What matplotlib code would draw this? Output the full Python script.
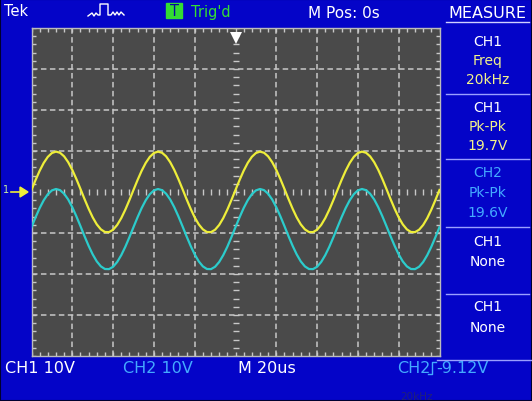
import matplotlib
matplotlib.use('Agg')
import matplotlib.pyplot as plt
import numpy as np
from matplotlib.lines import Line2D
from matplotlib.patches import Rectangle, Polygon

W, H = 532, 402

# ---- data (time in microseconds, volts) ----
time_us = list(range(-100, 101, 2))
ch1_volts = [0.50, 2.93, 5.18, 7.10, 8.57, 9.51, 9.85, 9.57, 8.69, 7.26, 5.38, 3.16, 0.74,
             -1.73, -4.08, -6.19, -7.90, -9.11, -9.76, -9.79, -9.20, -8.04, -6.37, -4.30, -1.96,
             0.50, 2.93, 5.18, 7.10, 8.57, 9.51, 9.85, 9.57, 8.69, 7.26, 5.38, 3.16, 0.74,
             -1.73, -4.08, -6.19, -7.90, -9.11, -9.76, -9.79, -9.20, -8.04, -6.37, -4.30, -1.96,
             0.50, 2.93, 5.18, 7.10, 8.57, 9.51, 9.85, 9.57, 8.69, 7.26, 5.38, 3.16, 0.74,
             -1.73, -4.08, -6.19, -7.90, -9.11, -9.76, -9.79, -9.20, -8.04, -6.37, -4.30, -1.96,
             0.50, 2.93, 5.18, 7.10, 8.57, 9.51, 9.85, 9.57, 8.69, 7.26, 5.38, 3.16, 0.74,
             -1.73, -4.08, -6.19, -7.90, -9.11, -9.76, -9.79, -9.20, -8.04, -6.37, -4.30, -1.96,
             0.50]
ch2_volts = [-8.57, -6.16, -3.92, -2.01, -0.54, 0.39, 0.73, 0.45, -0.43, -1.84, -3.72, -5.93, -8.33,
             -10.79, -13.13, -15.22, -16.93, -18.14, -18.78, -18.81, -18.23, -17.07, -15.40, -13.35, -11.02,
             -8.57, -6.16, -3.92, -2.01, -0.54, 0.39, 0.73, 0.45, -0.43, -1.84, -3.72, -5.93, -8.33,
             -10.79, -13.13, -15.22, -16.93, -18.14, -18.78, -18.81, -18.23, -17.07, -15.40, -13.35, -11.02,
             -8.57, -6.16, -3.92, -2.01, -0.54, 0.39, 0.73, 0.45, -0.43, -1.84, -3.72, -5.93, -8.33,
             -10.79, -13.13, -15.22, -16.93, -18.14, -18.78, -18.81, -18.23, -17.07, -15.40, -13.35, -11.02,
             -8.57, -6.16, -3.92, -2.01, -0.54, 0.39, 0.73, 0.45, -0.43, -1.84, -3.72, -5.93, -8.33,
             -10.79, -13.13, -15.22, -16.93, -18.14, -18.78, -18.81, -18.23, -17.07, -15.40, -13.35, -11.02,
             -8.57]

measure_labels = ["CH1", "Freq", "20kHz",
                  "CH1", "Pk-Pk", "19.7V",
                  "CH2", "Pk-Pk", "19.6V",
                  "CH1", "None",
                  "CH1", "None"]
bottom_labels = ["CH1 10V", "CH2 10V", "M 20us", "CH2", "-9.12V"]

BLUE = '#0404c8'
GREY = '#4a4a4a'
GRID = '#c8c8c8'
YEL = '#eeee3a'
CYN = '#2ccccc'
LBLUE = '#44aaff'
PALEY = '#f2f28a'

fig = plt.figure(figsize=(W / 100, H / 100), dpi=100, facecolor=BLUE)
plt.rcParams['font.family'] = ['DejaVu Sans']

def fx(x):
    return x / W

def fy(y):
    return 1 - y / H

def txt(x, y, s, color='white', size=10, ha='left', **kw):
    fig.text(fx(x), fy(y), s, color=color, fontsize=size, ha=ha, va='center', **kw)

# dark outer edge
fig.add_artist(Rectangle((0, 0), 1, 1, transform=fig.transFigure, fill=False,
                         edgecolor='#000030', lw=1.5))

# ---- screen area ----
ax = fig.add_axes([31.5 / W, 1 - 357 / H, 408 / W, 328 / H])
ax.set_facecolor(GREY)
ax.set_xlim(-100, 100)
ax.set_ylim(-40, 40)
ax.set_xticks([])
ax.set_yticks([])
for s in ax.spines.values():
    s.set_color('#bcbcbc')
    s.set_linewidth(1.0)

dash = (0, (3.6, 2.26))
for x in range(-80, 81, 20):
    if x != 0:
        ax.axvline(x, color=GRID, lw=1.1, ls=dash, zorder=1)
for y in range(-30, 31, 10):
    if y != 0:
        ax.axhline(y, color=GRID, lw=1.1, ls=dash, zorder=1)

minor_x = np.arange(-100, 101, 4)
minor_y = np.arange(-40, 41, 2)
for yy in (-40, 40):
    ax.plot(minor_x, [yy] * len(minor_x), ls='none', marker='|', ms=6, mew=1.0, color=GRID, zorder=1)
for xx in (-100, 100):
    ax.plot([xx] * len(minor_y), minor_y, ls='none', marker='_', ms=6, mew=1.0, color=GRID, zorder=1)
ax.plot(minor_x, [0] * len(minor_x), ls='none', marker='|', ms=5, mew=1.0, color=GRID, zorder=1)
ax.plot([0] * len(minor_y), minor_y, ls='none', marker='_', ms=5, mew=1.0, color=GRID, zorder=1)

# traces
ax.plot(time_us, ch1_volts, color=YEL, lw=1.6, zorder=3)
ax.plot(time_us, ch2_volts, color=CYN, lw=1.6, zorder=3)

# trigger position marker
ax.plot([0], [37.6], marker='v', ms=8, color='white', mew=0, clip_on=False, zorder=4)

# channel 1 ground marker
txt(6, 190, "1", color='#c8f0a0', size=7, ha='center')
fig.add_artist(Polygon([[fx(20), fy(188)], [fx(28), fy(193)], [fx(20), fy(198)]],
                       closed=True, transform=fig.transFigure, color=YEL))
fig.add_artist(Line2D([fx(11), fx(22)], [fy(193), fy(193)], color=YEL, lw=1.2))

# ---- top bar ----
txt(4, 12, "Tek", size=10.5)
icon_x = [88, 92, 94, 96, 98, 100, 100, 108, 108, 111, 113, 115, 117, 119, 121, 124]
icon_y = [17, 14, 17, 14, 16, 16, 5, 5, 16, 16, 13, 16, 13, 16, 13, 16]
fig.add_artist(Line2D([fx(v) for v in icon_x], [fy(v) for v in icon_y], color='white', lw=1.0))
fig.add_artist(Rectangle((fx(166), fy(19)), 16 / W, 15 / H, transform=fig.transFigure,
                         color='#33dd33'))
txt(174, 11.5, "T", color='#0606a0', size=10.5, ha='center')
txt(191, 12, "Trig'd", color='#33dd33', size=10.5)
txt(308, 14, "M Pos: 0s", size=11)

# ---- measure panel ----
txt(487, 14, "MEASURE", size=11.5, ha='center')
fig.add_artist(Line2D([fx(446), fx(529)], [fy(23), fy(23)], color='#d0d0ff', lw=1.0))
rows_y = [42, 61, 80, 108, 127, 146, 173, 193, 213, 242, 262, 307, 328]
rows_c = ['white', PALEY, PALEY, 'white', PALEY, PALEY, LBLUE, LBLUE, LBLUE,
          'white', 'white', 'white', 'white']
for lab, yy, cc in zip(measure_labels, rows_y, rows_c):
    txt(488, yy, lab, color=cc, size=10, ha='center')
for yy in (95, 160, 228, 295):
    fig.add_artist(Line2D([fx(446), fx(529)], [fy(yy), fy(yy)], color='#9aa0ff', lw=1.0))
fig.add_artist(Line2D([fx(437), fx(532)], [fy(361), fy(361)], color='#9aa0ff', lw=1.0))

# ---- bottom bar ----
txt(5, 369, bottom_labels[0], size=11.5)
txt(123, 369, bottom_labels[1], color=LBLUE, size=11.5)
txt(238, 369, bottom_labels[2], size=11.5)
txt(397, 369, bottom_labels[3], color=LBLUE, size=11.5)
edge_x = [428, 432, 432, 436]
edge_y = [375, 375, 363, 363]
fig.add_artist(Line2D([fx(v) for v in edge_x], [fy(v) for v in edge_y], color=LBLUE, lw=1.0))
txt(436, 369, bottom_labels[4], color=LBLUE, size=11.5)
txt(400, 397, "20kHz", color='#20207a', size=7.5)

fig.savefig('out.png', dpi=100, facecolor=BLUE)
